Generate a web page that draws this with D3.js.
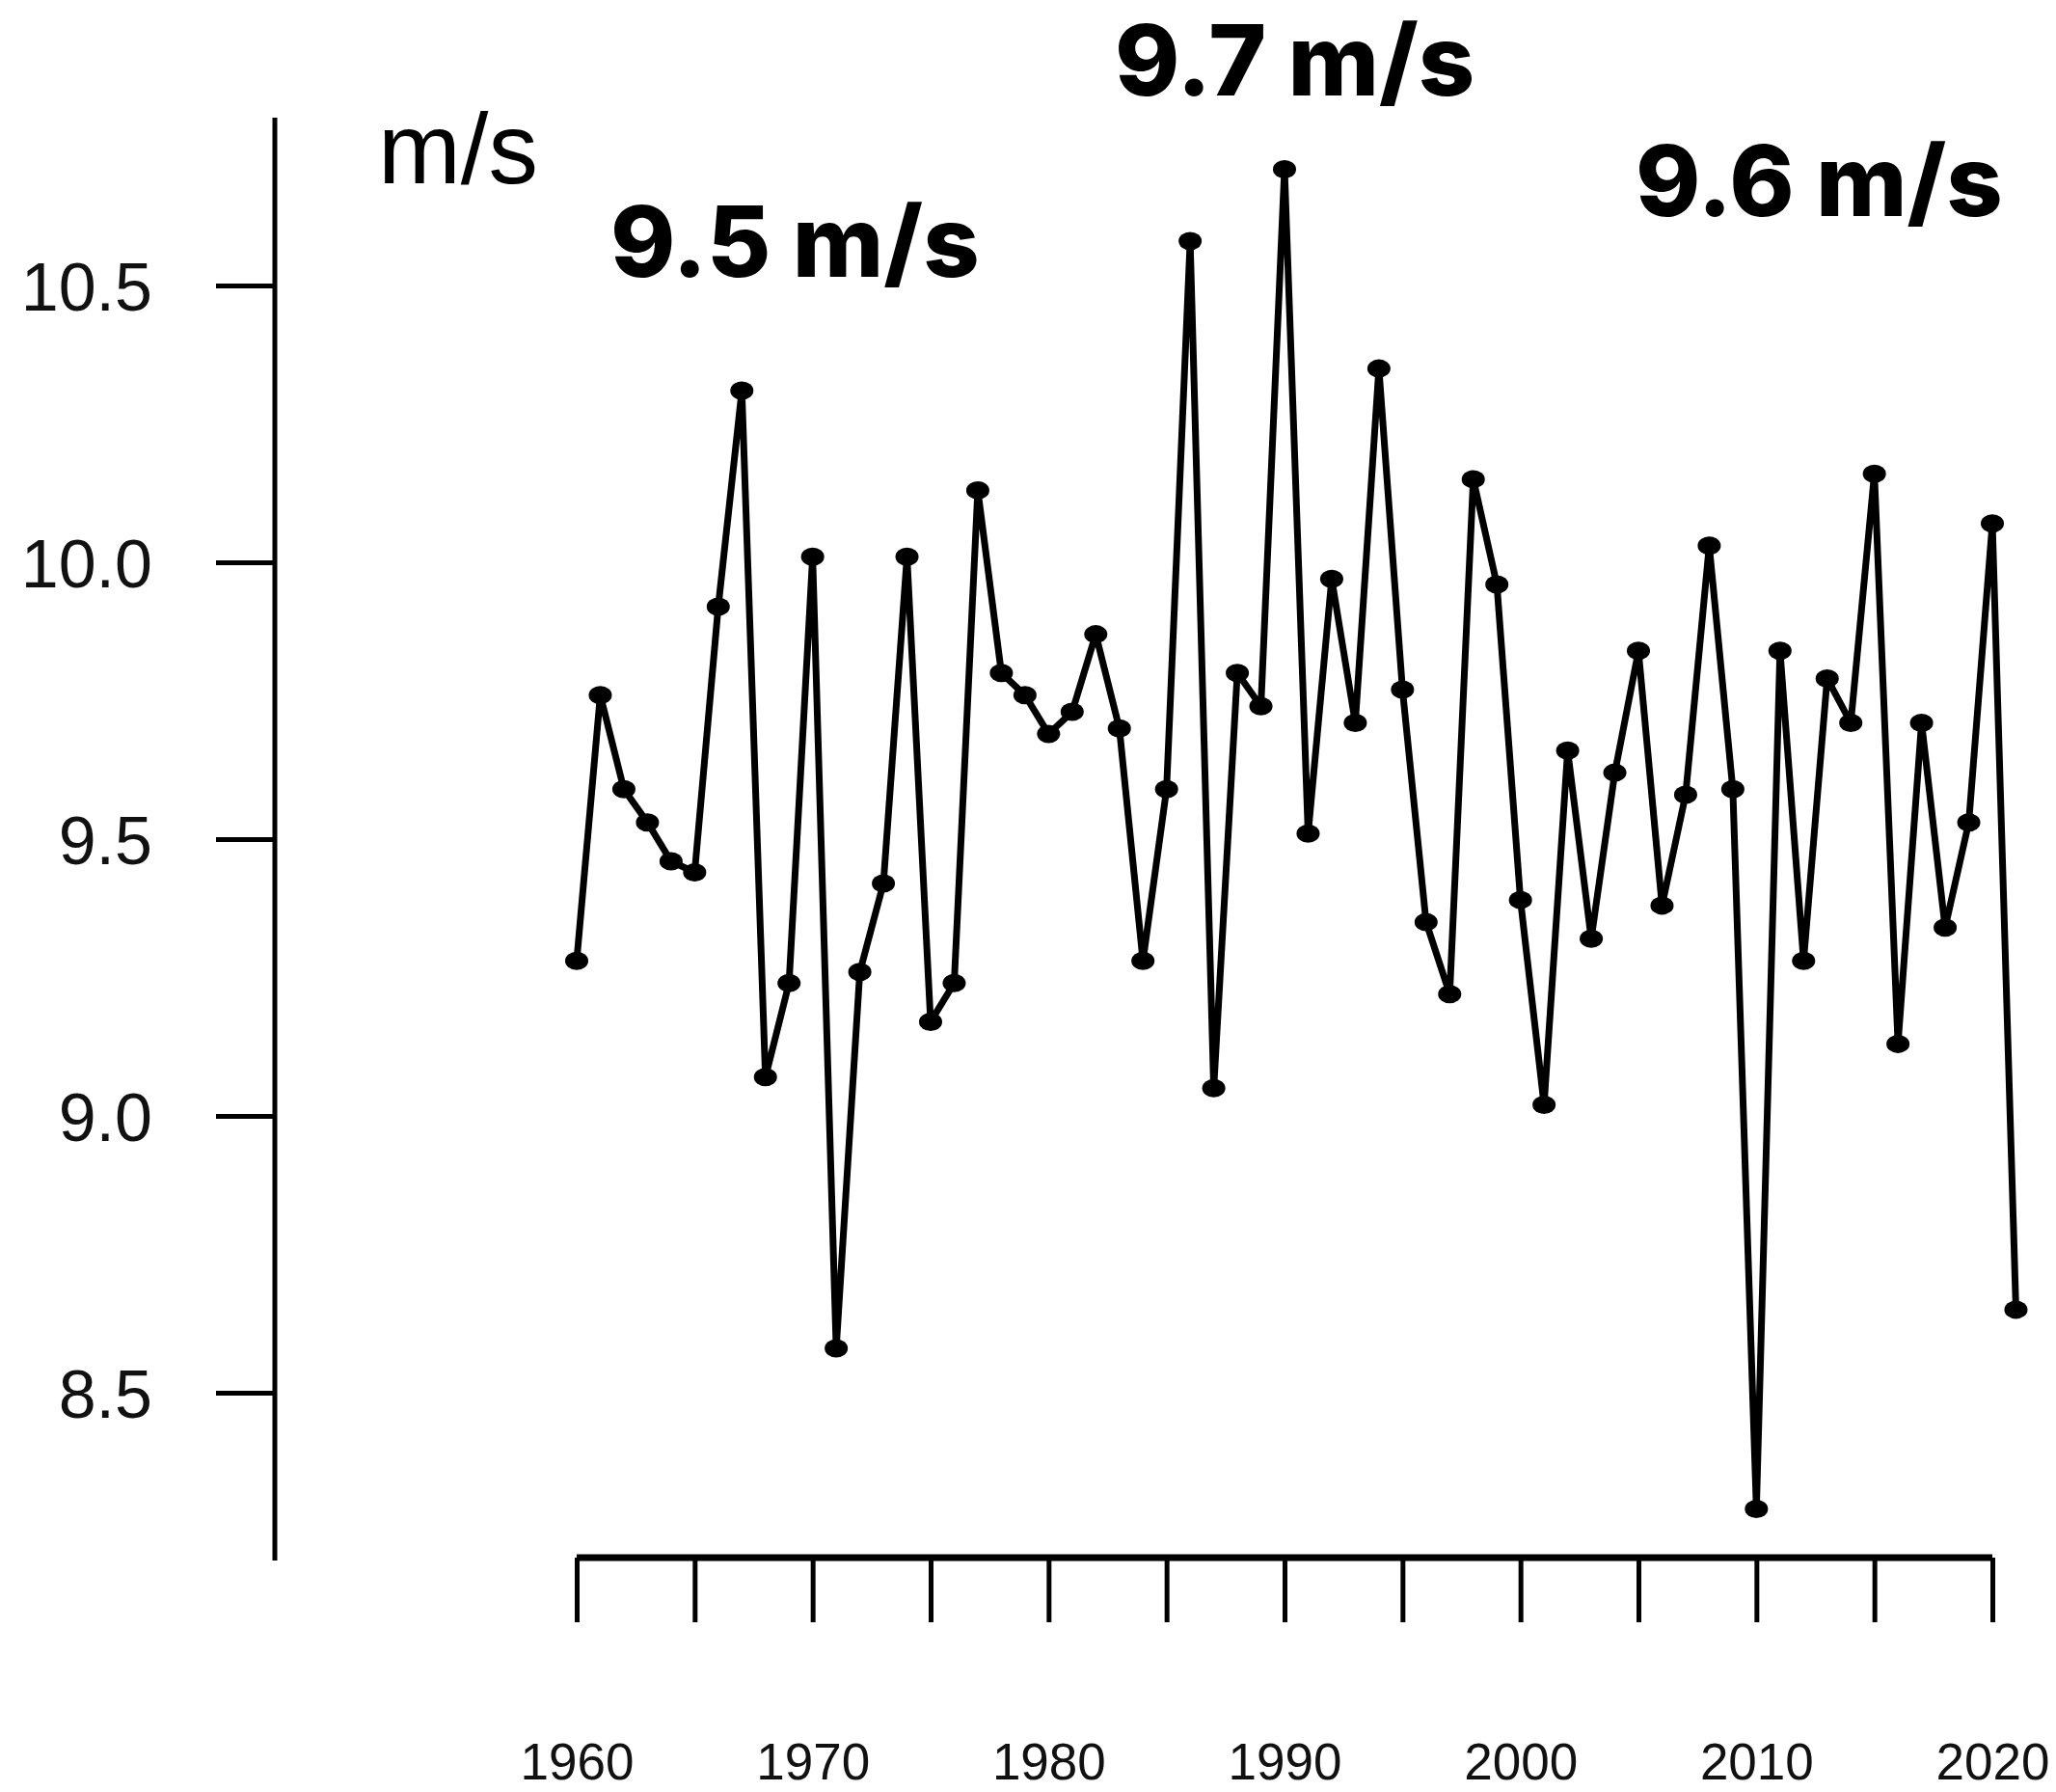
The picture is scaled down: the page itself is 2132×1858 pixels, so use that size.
<!DOCTYPE html>
<html>
<head>
<meta charset="utf-8">
<script src="https://cdn.jsdelivr.net/npm/d3@7"></script>
<style>
  html, body { margin: 0; padding: 0; background: #fff; }
  svg { display: block; }
  .axis text { font-family: "Liberation Sans", Arial, sans-serif; fill: #111; }
  .note { font-family: Inter, "Noto Sans", sans-serif; font-weight: 800; fill: #000; }
</style>
</head>
<body>
<div id="chart"></div>
<script>
// yearly mean wind speed
const years = d3.range(1960, 2022);
const speeds = [
  9.28, 9.76, 9.59, 9.53, 9.46, 9.44, 9.92, 10.31, 9.07, 9.24,
  10.01, 8.58, 9.26, 9.42, 10.01, 9.17, 9.24, 10.13, 9.80, 9.76,
  9.69, 9.73, 9.87, 9.70, 9.28, 9.59, 10.58, 9.05, 9.80, 9.74,
  10.71, 9.51, 9.97, 9.71, 10.35, 9.77, 9.35, 9.22, 10.15, 9.96,
  9.39, 9.02, 9.66, 9.32, 9.62, 9.84, 9.38, 9.58, 10.03, 9.59,
  8.29, 9.84, 9.28, 9.79, 9.71, 10.16, 9.13, 9.71, 9.34, 9.53,
  10.07, 8.65
];
const yTicks = [8.5, 9.0, 9.5, 10.0, 10.5];
const xTicks = d3.range(1960, 2021, 5);
const unitLabel = "m/s";
const periodLabels = ["9.5 m/s", "9.7 m/s", "9.6 m/s"];

const width = 2132, height = 1858;

const svg = d3.select("#chart").append("svg")
    .attr("width", width)
    .attr("height", height);

const x = d3.scaleLinear().domain([1960, 2020]).range([598, 2066]);
const y = d3.scaleLinear().domain([8.5, 10.5]).range([1444, 296]);
const yLim = [8.197, 10.803];
const yAxisX = 285, xAxisY = 1615;

// y axis, R style: detached line + outward ticks
const gy = svg.append("g")
    .attr("class", "axis")
    .attr("transform", `translate(${yAxisX},0)`)
    .call(d3.axisLeft(y).tickValues(yTicks).tickSize(61).tickPadding(66)
        .tickFormat(d3.format(".1f")));
gy.select(".domain").remove();
gy.selectAll(".tick line").attr("stroke", "#000").attr("stroke-width", 5);
gy.selectAll(".tick text").attr("font-size", 70).attr("dy", "0.36em");
gy.append("line")
    .attr("y1", y(yLim[1])).attr("y2", y(yLim[0]))
    .attr("stroke", "#000").attr("stroke-width", 5);

// x axis
const gx = svg.append("g")
    .attr("class", "axis")
    .attr("transform", `translate(0,${xAxisY})`)
    .call(d3.axisBottom(x).tickValues(xTicks).tickSize(67).tickSizeOuter(0)
        .tickFormat(d => d % 10 === 0 ? d : ""));
gx.select(".domain").attr("stroke", "#000").attr("stroke-width", 7)
    .attr("d", `M${x(1960)},0H${x(2020)}`);
gx.selectAll(".tick line").attr("stroke", "#000").attr("stroke-width", 5);
gx.selectAll(".tick text").attr("font-size", 53).attr("y", 230).attr("dy", null);

// unit
svg.append("text")
    .attr("class", "axis")
    .attr("x", 392).attr("y", 190)
    .attr("font-family", "Liberation Sans, Arial, sans-serif")
    .attr("font-size", 103)
    .text(unitLabel);

// series
const line = d3.line().x((d, i) => x(years[i])).y(d => y(d));
svg.append("path")
    .datum(speeds)
    .attr("fill", "none")
    .attr("stroke", "#000")
    .attr("stroke-width", 7)
    .attr("stroke-linejoin", "miter")
    .attr("stroke-miterlimit", 3)
    .attr("d", line);

svg.append("g")
    .selectAll("ellipse")
    .data(speeds)
    .join("ellipse")
    .attr("cx", (d, i) => x(years[i]))
    .attr("cy", d => y(d))
    .attr("rx", 12)
    .attr("ry", 9.5)
    .attr("fill", "#000");

// period means
const notePos = [[633, 287], [1156, 99], [1696, 224]];
svg.append("g")
    .selectAll("text")
    .data(periodLabels)
    .join("text")
    .attr("class", "note")
    .attr("x", (d, i) => notePos[i][0])
    .attr("y", (d, i) => notePos[i][1])
    .attr("font-size", 102)
    .text(d => d);
</script>
</body>
</html>
